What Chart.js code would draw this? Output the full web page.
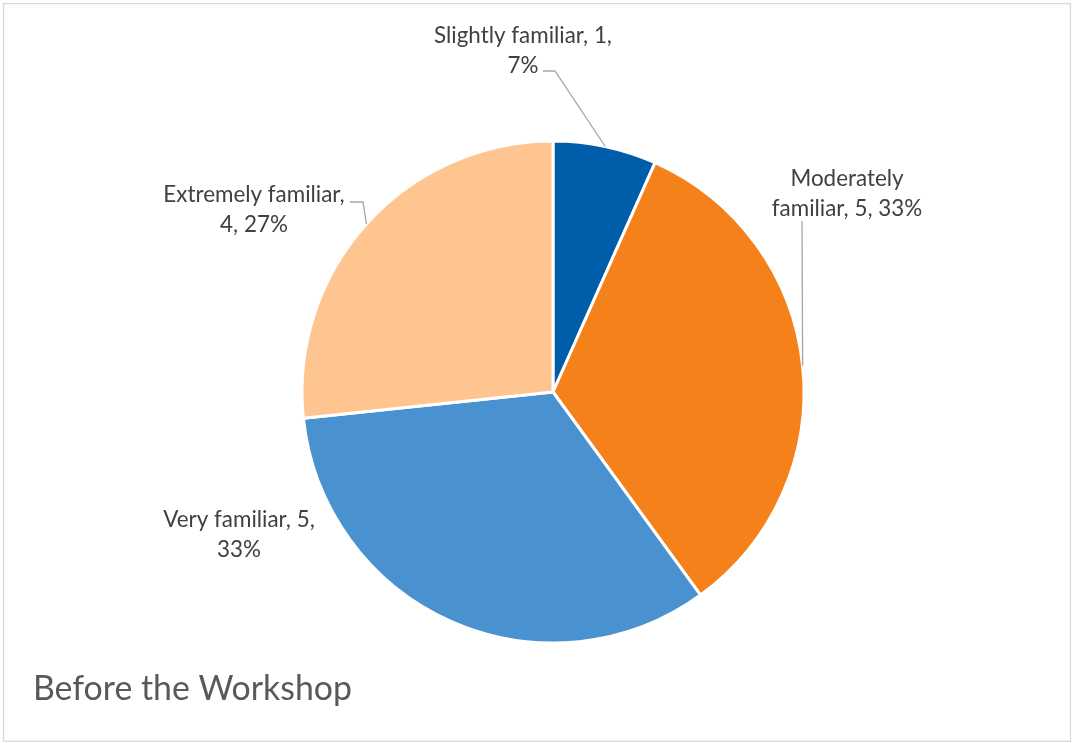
<!DOCTYPE html>
<html><head><meta charset="utf-8">
<script src="https://cdn.jsdelivr.net/npm/chart.js@4"></script>
<style>html,body{margin:0;padding:0;background:#fff;overflow:hidden}#wrap{width:1072px;height:743px;position:relative}canvas{display:block}</style>
</head><body><div id="wrap"><canvas id="c" width="1072" height="743"></canvas></div>
<script>
// ---- data ----
const categories = ['Slightly familiar', 'Moderately familiar', 'Very familiar', 'Extremely familiar'];
const counts = [1, 5, 5, 4];
const percents = [7, 33, 33, 27];
const chartTitle = 'Before the Workshop';

// ---- styles / layout ----
const sliceColors = ['#005DAA', '#F4811A', '#4A91D0', '#FFC591'];
const FONT = 'Lato, "Open Sans", sans-serif';
const LABEL_WRAP = 191;
const labelLayout = [
  { cx: 523, y0: 43, leader: [[543, 71], [555, 71]] },
  { cx: 847, y0: 186, leader: [[802, 221]] },
  { cx: 239, y0: 527, leader: null },
  { cx: 254, y0: 202, leader: [[350, 202], [363, 202]] }
];

function fitSize(ctx, text, width, weight) {
  ctx.font = (weight || '') + ' 100px ' + FONT;
  return 100 * width / ctx.measureText(text).width;
}
function wrap(ctx, text, maxW) {
  const words = text.split(' ');
  const lines = [];
  let cur = '';
  for (const w of words) {
    const t = cur ? cur + ' ' + w : w;
    if (cur && ctx.measureText(t).width > maxW) { lines.push(cur); cur = w; }
    else cur = t;
  }
  if (cur) lines.push(cur);
  return lines;
}

const overlay = {
  id: 'overlay',
  beforeDraw(chart) {
    const ctx = chart.ctx;
    ctx.save();
    ctx.fillStyle = '#fff';
    ctx.fillRect(0, 0, chart.width, chart.height);
    ctx.strokeStyle = '#d9d9d9';
    ctx.lineWidth = 1.3;
    ctx.strokeRect(3.6, 3.6, 1066.9, 737.7);
    ctx.restore();
  },
  afterDatasetsDraw(chart) {
    const ctx = chart.ctx;
    const meta = chart.getDatasetMeta(0);
    ctx.save();
    const fs = fitSize(ctx, 'Slightly familiar, 1,', 178);
    ctx.font = fs + 'px ' + FONT;
    const lh = 29.5;
    meta.data.forEach((arc, i) => {
      const p = arc.getProps(['x', 'y', 'startAngle', 'endAngle', 'outerRadius'], true);
      const mid = (p.startAngle + p.endAngle) / 2;
      const ax = p.x + Math.cos(mid) * p.outerRadius;
      const ay = p.y + Math.sin(mid) * p.outerRadius;
      const L = labelLayout[i];
      if (L.leader) {
        ctx.beginPath();
        ctx.strokeStyle = '#a6a6a6';
        ctx.lineWidth = 1.3;
        ctx.moveTo(L.leader[0][0], L.leader[0][1]);
        for (let k = 1; k < L.leader.length; k++) ctx.lineTo(L.leader[k][0], L.leader[k][1]);
        ctx.lineTo(ax, ay);
        ctx.stroke();
      }
      const text = categories[i] + ', ' + counts[i] + ', ' + percents[i] + '%';
      const lines = wrap(ctx, text, LABEL_WRAP);
      ctx.fillStyle = '#404040';
      ctx.textAlign = 'center';
      ctx.textBaseline = 'alphabetic';
      lines.forEach((ln, k) => ctx.fillText(ln, L.cx, L.y0 + k * lh));
    });
    // title
    const ts = fitSize(ctx, chartTitle, 319);
    ctx.font = ts + 'px ' + FONT;
    ctx.fillStyle = '#595959';
    ctx.textAlign = 'left';
    ctx.textBaseline = 'alphabetic';
    ctx.fillText(chartTitle, 33, 700);
    ctx.restore();
  }
};

new Chart(document.getElementById('c'), {
  type: 'pie',
  data: {
    labels: categories,
    datasets: [{
      data: counts,
      backgroundColor: sliceColors,
      borderColor: '#ffffff',
      borderWidth: 3
    }]
  },
  options: {
    responsive: false,
    animation: false,
    radius: 251,
    layout: { padding: { left: 134, right: 100, top: 141, bottom: 100 } },
    plugins: { legend: { display: false }, tooltip: { enabled: false }, title: { display: false } }
  },
  plugins: [overlay]
});
</script>
</body></html>
